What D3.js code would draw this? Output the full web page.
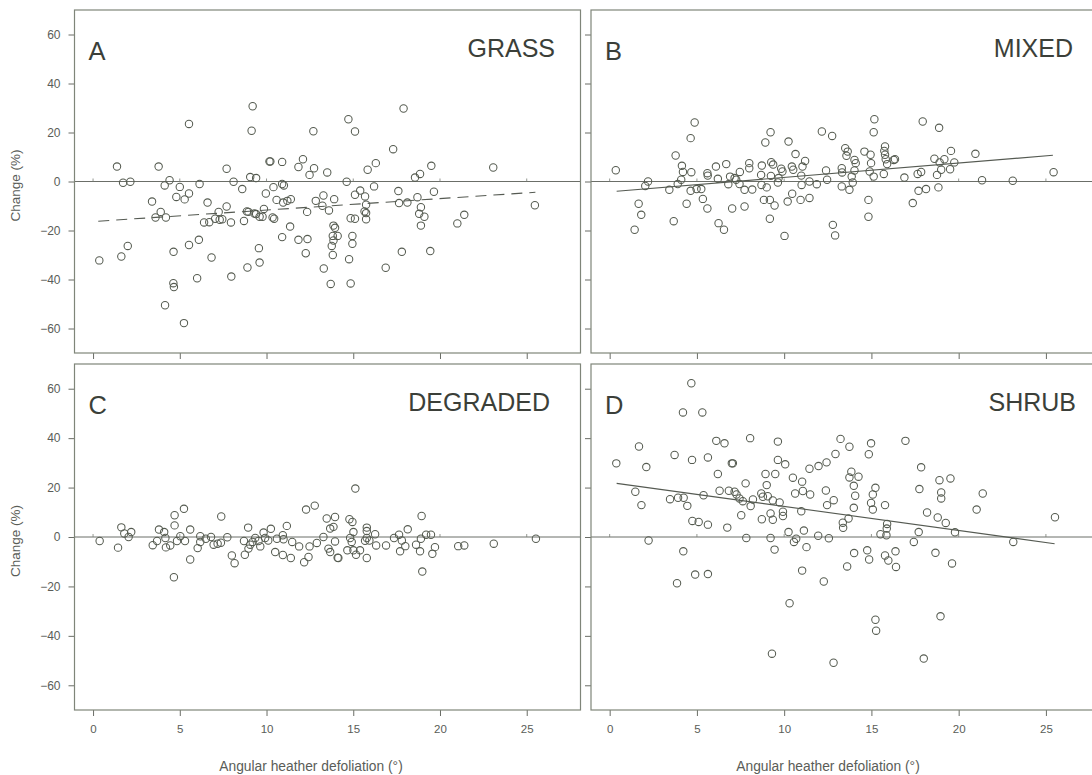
<!DOCTYPE html>
<html>
<head>
<meta charset="utf-8">
<script src="https://cdn.jsdelivr.net/npm/d3@7"></script>
<style>
  body { margin: 0; background: #ffffff; }
  svg { display: block; font-family: "Liberation Sans", Arial, sans-serif; }
</style>
</head>
<body>
<svg id="chart" width="1092" height="775"></svg>
<script>
// Angular heather defoliation (deg) vs change (%) per vegetation type: [x, y]
const grassPoints = [
  [0.36,-32.2],[1.38,6.1],[1.63,-30.6],[1.73,-0.5],[2.15,-0.1],[2.0,-26.3],[3.4,-8.2],[3.78,6.1],
  [3.6,-14.7],[3.9,-12.4],[4.13,-1.6],[4.2,-14.7],[4.41,0.5],[4.8,-6.3],[5.0,-2.2],[4.64,-28.7],
  [4.15,-50.5],[4.63,-41.5],[4.66,-43.1],[5.24,-57.8],[5.53,23.5],[5.53,-4.9],[5.28,-7.3],[5.53,-25.9],
  [6.14,-1.0],[6.1,-23.8],[6.0,-39.5],[6.6,-8.6],[6.4,-16.7],[6.7,-16.6],[6.83,-31.0],[7.04,-15.2],
  [7.3,-15.6],[7.24,-12.4],[7.45,-15.4],[7.7,5.2],[7.7,-10.2],[7.95,-16.7],[8.1,-0.1],[7.97,-38.8],
  [8.6,-3.1],[8.7,-16.1],[8.9,-35.1],[8.87,-12.2],[9.06,1.8],[9.4,1.4],[9.2,30.7],[9.14,20.7],
  [8.96,-12.4],[9.3,-13.1],[9.6,-14.4],[9.4,-13.3],[9.77,-14.4],[9.56,-27.2],[9.6,-33.1],[9.85,-11.2],
  [9.96,-4.9],[10.17,8.2],[10.22,8.2],[10.4,-2.3],[10.44,-15.2],[10.35,-14.7],[10.58,-7.5],[10.9,8.0],
  [10.9,-1.0],[11.0,-1.6],[10.96,-8.6],[11.2,-7.9],[11.4,-7.2],[11.36,-18.4],[10.9,-22.7],[11.84,5.9],
  [12.1,9.1],[12.74,5.4],[12.48,2.7],[12.7,20.5],[12.34,-12.4],[12.84,-7.9],[11.84,-23.8],[12.36,-23.5],
  [12.26,-29.3],[13.28,-5.7],[13.5,3.7],[13.22,-9.9],[13.6,-11.8],[13.3,-35.5],[13.7,-41.8],[13.9,-7.2],
  [13.86,-18.0],[13.95,-18.9],[13.82,-22.2],[14.1,-22.2],[13.86,-24.1],[13.76,-26.3],[13.82,-30.0],[14.85,-41.6],
  [14.72,25.4],[15.1,20.4],[14.62,-0.1],[15.1,-5.4],[15.4,-3.7],[15.68,-6.1],[15.74,-9.5],[15.65,-12.2],
  [15.74,-12.9],[15.74,-15.4],[14.85,-15.0],[15.1,-15.2],[14.95,-22.2],[14.95,-25.4],[14.76,-31.7],[15.83,4.8],
  [16.3,7.5],[16.2,-2.0],[16.87,-35.2],[17.3,13.2],[17.9,29.8],[17.6,-3.9],[17.64,-8.8],[18.12,-8.6],
  [17.8,-28.7],[18.56,1.6],[18.85,3.1],[19.5,6.4],[18.7,-6.4],[18.9,-10.5],[18.8,-13.2],[19.1,-14.4],
  [18.9,-18.0],[19.65,-4.2],[19.44,-28.4],[21.0,-17.1],[21.4,-13.6],[23.07,5.7],[25.47,-9.7]
];

const mixedPoints = [
  [0.35,4.6],[2.2,0.0],[2.04,-1.8],[1.66,-9.1],[1.81,-13.6],[1.43,-19.7],[3.42,-3.4],[3.78,10.6],
  [3.67,-16.2],[4.14,6.4],[4.2,3.9],[4.1,0.7],[3.9,-1.0],[4.41,-9.1],[4.68,3.8],[4.64,17.7],
  [4.87,24.1],[4.64,-3.8],[4.98,-3.1],[5.25,-3.1],[5.34,-7.1],[5.6,3.4],[5.62,2.4],[5.6,-11.0],
  [6.09,6.1],[6.2,1.1],[6.24,-17.0],[6.55,-19.7],[6.68,7.1],[6.8,-1.1],[6.9,2.0],[7.02,-11.0],
  [7.16,1.4],[7.25,0.7],[7.46,3.9],[7.44,-1.0],[7.73,-3.4],[7.73,-10.2],[8.0,7.5],[8.0,5.4],
  [8.17,-3.3],[8.72,6.5],[8.68,2.7],[8.7,-1.4],[8.84,-7.5],[8.92,15.9],[9.22,20.1],[9.26,7.9],
  [9.37,6.9],[9.24,2.3],[9.0,-2.4],[9.18,-7.5],[9.18,-15.2],[9.45,-9.8],[9.64,-0.4],[9.68,1.4],
  [9.83,5.2],[9.9,4.1],[10.02,-22.2],[10.25,16.3],[10.2,-8.2],[10.44,6.1],[10.52,4.8],[10.65,11.2],
  [10.46,-5.0],[10.94,-7.5],[10.98,2.4],[11.0,-1.4],[11.05,6.1],[11.2,8.4],[11.45,0.0],[11.45,-6.7],
  [11.87,-1.1],[12.16,20.4],[12.4,4.5],[12.46,0.7],[12.75,18.6],[12.79,-17.7],[12.92,-22.0],[13.3,5.4],
  [13.32,3.7],[13.3,-2.0],[13.5,13.6],[13.64,12.2],[13.57,10.5],[13.74,-3.4],[13.87,2.0],[13.93,-0.4],
  [14.03,8.8],[14.1,7.5],[14.03,4.5],[14.6,12.2],[14.83,-7.5],[14.83,-14.4],[14.95,10.9],[14.98,7.5],
  [14.9,4.1],[15.13,2.0],[15.13,20.1],[15.17,25.4],[15.71,3.1],[15.78,14.3],[15.74,12.5],[15.78,10.9],
  [15.82,9.1],[15.9,7.1],[16.28,8.8],[16.35,9.1],[16.89,1.6],[17.37,-8.8],[17.7,-3.8],[17.65,3.1],
  [17.85,3.9],[17.94,24.5],[18.13,-3.1],[18.61,9.3],[18.76,2.7],[18.84,-2.4],[18.88,21.9],[18.91,7.8],
  [19.0,4.8],[19.18,9.1],[19.51,5.0],[19.56,12.5],[19.75,7.8],[20.96,11.3],[21.34,0.5],[23.1,0.3],
  [25.44,3.8]
];

const degradedPoints = [
  [0.38,-1.6],[1.44,-4.3],[1.63,3.9],[1.8,1.4],[2.05,0.0],[2.2,2.0],[3.44,-3.3],[3.8,3.0],
  [3.69,-1.6],[4.1,2.0],[4.17,-0.4],[4.2,-4.2],[4.45,-3.4],[4.7,8.8],[4.7,4.7],[4.66,-16.3],
  [4.84,-1.6],[5.03,0.3],[5.24,11.4],[5.3,-1.6],[5.6,3.0],[5.6,-9.1],[6.03,-4.5],[6.18,0.3],
  [6.18,-2.0],[6.5,-0.7],[6.8,0.0],[6.95,-3.1],[7.18,-2.7],[7.39,8.3],[7.37,-2.3],[7.74,-0.1],
  [8.0,-7.5],[8.16,-10.6],[8.7,-1.6],[8.75,-7.2],[8.94,3.8],[8.96,-4.7],[9.06,-3.1],[9.2,-2.0],
  [9.35,-0.4],[9.64,-3.8],[9.54,-1.6],[9.83,1.8],[9.92,-0.4],[10.25,3.3],[10.1,-1.4],[10.5,-6.1],
  [10.6,-0.7],[10.94,0.7],[10.98,-0.9],[10.94,-7.3],[11.17,4.5],[11.4,-8.5],[11.48,-2.0],[11.88,-3.8],
  [12.28,11.1],[12.78,12.7],[12.17,-10.2],[12.42,-8.1],[12.48,-3.8],[12.9,-2.4],[13.28,0.0],[13.47,7.5],
  [13.67,3.4],[13.57,-4.7],[13.67,-6.1],[13.95,-1.8],[14.1,-8.4],[15.12,19.6],[13.95,8.1],[14.78,7.2],
  [14.95,6.1],[13.86,4.1],[15.01,2.0],[15.78,3.8],[15.78,2.4],[16.26,1.1],[15.78,-0.4],[15.68,-1.5],
  [15.93,-1.4],[14.82,-0.4],[14.91,-2.0],[14.66,-5.4],[15.01,-5.4],[15.16,-7.2],[15.39,-5.4],[15.78,-8.5],
  [14.14,-8.5],[16.32,-3.4],[16.89,-3.4],[17.35,-0.4],[17.64,0.9],[17.8,-1.4],[17.7,-5.8],[18.0,-3.7],
  [18.14,3.1],[18.62,-3.1],[18.85,-5.8],[18.9,-0.7],[18.94,8.5],[18.98,-14.0],[19.2,0.9],[19.48,0.9],
  [19.56,-6.8],[19.71,-4.1],[21.05,-3.7],[21.4,-3.4],[23.1,-2.7],[25.53,-0.7]
];

const shrubPoints = [
  [0.38,29.8],[1.68,36.6],[1.47,18.3],[1.82,12.9],[2.1,28.3],[2.23,-1.4],[3.46,15.3],[3.72,33.2],
  [3.86,-18.7],[3.92,15.9],[4.24,15.9],[4.2,50.4],[4.22,-5.8],[4.45,12.6],[4.68,62.2],[4.72,31.2],
  [4.74,6.5],[4.9,-15.2],[5.1,6.1],[5.31,50.4],[5.38,16.9],[5.63,32.2],[5.63,5.0],[5.63,-15.0],
  [6.11,38.9],[6.2,25.5],[6.3,18.7],[6.58,37.9],[6.74,3.8],[6.83,18.7],[7.0,29.8],[7.06,29.8],
  [7.16,18.3],[7.27,17.2],[7.44,15.6],[7.54,8.8],[7.63,14.5],[7.79,21.7],[7.83,-0.4],[8.05,40.0],
  [8.08,12.5],[8.21,15.2],[8.69,17.6],[8.78,16.3],[8.72,7.2],[8.93,25.5],[9.0,21.0],[9.06,16.5],
  [9.22,9.5],[9.22,-0.4],[9.3,-47.2],[9.35,7.0],[9.35,14.8],[9.45,-5.1],[9.49,25.5],[9.64,38.6],
  [9.64,31.2],[9.74,14.0],[9.93,10.2],[9.93,8.5],[10.06,29.4],[10.25,2.0],[10.31,-26.8],[10.5,24.0],
  [10.56,-2.0],[10.69,-0.7],[10.63,17.6],[10.98,10.4],[11.03,22.4],[11.07,18.6],[11.03,-13.6],[11.13,2.6],
  [11.28,-4.1],[11.45,27.6],[11.49,17.2],[11.95,0.5],[11.97,28.7],[12.27,-18.0],[12.39,18.8],[12.43,30.2],
  [12.46,12.9],[12.56,-0.5],[12.83,-50.9],[12.84,14.9],[12.94,33.6],[13.23,39.7],[13.74,36.5],[13.85,26.4],
  [13.74,24.1],[14.26,24.4],[13.99,20.7],[14.07,16.7],[13.99,11.8],[13.69,7.5],[13.36,5.8],[13.38,3.7],
  [14.01,-6.5],[13.61,-11.9],[14.76,-5.4],[14.87,-9.1],[14.85,33.5],[14.98,37.9],[15.23,19.9],[15.08,17.2],
  [14.98,13.8],[15.08,11.1],[15.23,-33.5],[15.27,-37.9],[15.52,1.1],[15.78,12.9],[15.9,5.3],[15.88,3.4],
  [15.86,0.7],[15.78,-7.5],[15.97,-9.5],[16.38,-5.8],[16.41,-12.1],[16.95,38.9],[17.43,-2.0],[17.71,2.0],
  [17.75,19.4],[17.85,28.2],[18.0,-49.2],[18.19,9.9],[18.67,-6.4],[18.8,7.9],[18.9,23.0],[19.0,18.0],
  [19.0,15.6],[18.96,-32.1],[19.26,5.7],[19.53,23.7],[19.62,-10.7],[19.79,1.9],[21.03,11.1],[21.38,17.6],
  [23.13,-2.0],[25.52,8.0]
];

// Fitted regression lines, start and end points [x, y]
const grassFit = [[0.3,-16.2],[25.5,-4.4]];
const mixedFit = [[0.4,-4.0],[25.4,10.7]];
const shrubFit = [[0.4,21.7],[25.5,-2.7]];

const xTicks = [0, 5, 10, 15, 20, 25];
const yTicks = [-60, -40, -20, 0, 20, 40, 60];
const xDomain = [-1.07, 28.1];
const yDomain = [-70, 70];

const xTitle = "Angular heather defoliation (°)";
const yTitle = "Change (%)";

const svg = d3.select("#chart");

const panels = [
  { letter: "A", name: "GRASS",    points: grassPoints,    fit: grassFit, dashed: true,
    x0: 74.5, y0: 10,  w: 506, h: 343, nameRight: 555, yLabels: true,  xLabels: false },
  { letter: "B", name: "MIXED",    points: mixedPoints,    fit: mixedFit, dashed: false,
    x0: 591,  y0: 10,  w: 509, h: 343, nameRight: 1073, yLabels: false, xLabels: false },
  { letter: "C", name: "DEGRADED", points: degradedPoints, fit: null,     dashed: false,
    x0: 74.5, y0: 364, w: 506, h: 346, nameRight: 550, yLabels: true,  xLabels: true },
  { letter: "D", name: "SHRUB",    points: shrubPoints,    fit: shrubFit, dashed: false,
    x0: 591,  y0: 364, w: 509, h: 346, nameRight: 1076, yLabels: false, xLabels: true }
];

const boxColor = "#7f8579";
const axisColor = "#6a6d66";
const pointColor = "#555b50";
const textColor = "#3b3f39";
const labelColor = "#5a5d58";

panels.forEach(p => {
  const x = d3.scaleLinear().domain(xDomain).range([p.x0, p.x0 + p.w]);
  const y = d3.scaleLinear().domain(yDomain).range([p.y0 + p.h, p.y0]);
  const g = svg.append("g");

  // y axis (left side, ticks outward)
  const yAxis = d3.axisLeft(y).tickValues(yTicks).tickSize(6).tickPadding(8)
    .tickFormat(p.yLabels ? d3.format("d") : "");
  const ya = g.append("g").attr("transform", `translate(${p.x0},0)`).call(yAxis);
  ya.select(".domain").remove();
  ya.selectAll(".tick line").attr("stroke", axisColor);
  ya.selectAll(".tick text").attr("fill", labelColor).style("font-size", "12px")
    .attr("font-family", "Liberation Sans, Arial, sans-serif");

  // x axis (bottom, ticks outward)
  const xAxis = d3.axisBottom(x).tickValues(xTicks).tickSize(6).tickPadding(9)
    .tickFormat(p.xLabels ? d3.format("d") : "");
  const xa = g.append("g").attr("transform", `translate(0,${p.y0 + p.h})`).call(xAxis);
  xa.select(".domain").remove();
  xa.selectAll(".tick line").attr("stroke", axisColor);
  xa.selectAll(".tick text").attr("fill", labelColor)
    .attr("font-family", "Liberation Sans, Arial, sans-serif")
    .style("font-size", "11.5px");

  // zero reference line with small tick marks
  g.append("line")
    .attr("x1", p.x0).attr("x2", p.x0 + p.w)
    .attr("y1", y(0)).attr("y2", y(0))
    .attr("stroke", "#6b6e68").attr("stroke-width", 1);
  g.selectAll(".zt").data(xTicks).join("line")
    .attr("x1", d => x(d)).attr("x2", d => x(d))
    .attr("y1", y(0)).attr("y2", y(0) - 3)
    .attr("stroke", "#7a7d76").attr("stroke-width", 0.8);

  // fitted line
  if (p.fit) {
    g.append("line")
      .attr("x1", x(p.fit[0][0])).attr("y1", y(p.fit[0][1]))
      .attr("x2", x(p.fit[1][0])).attr("y2", y(p.fit[1][1]))
      .attr("stroke", "#555a52").attr("stroke-width", 1.1)
      .attr("stroke-dasharray", p.dashed ? "11,7" : null);
  }

  // points
  g.selectAll("circle").data(p.points).join("circle")
    .attr("cx", d => x(d[0])).attr("cy", d => y(d[1]))
    .attr("r", 3.7)
    .attr("fill", "none")
    .attr("stroke", pointColor)
    .attr("stroke-width", 1.05);

  // frame
  g.append("rect")
    .attr("x", p.x0).attr("y", p.y0).attr("width", p.w).attr("height", p.h)
    .attr("fill", "none").attr("stroke", boxColor).attr("stroke-width", 1.2);

  // panel letter and vegetation type
  g.append("text").attr("x", p.x0 + 14).attr("y", p.y0 + 50)
    .attr("fill", textColor).style("font-size", "25.5px").text(p.letter);
  g.append("text").attr("x", p.nameRight).attr("y", p.y0 + 47)
    .attr("text-anchor", "end")
    .attr("fill", textColor).style("font-size", "25px").text(p.name);

  // y title for left column
  if (p.yLabels) {
    g.append("text")
      .attr("transform", `translate(20,${p.y0 + p.h / 2 + 4}) rotate(-90)`)
      .attr("text-anchor", "middle")
      .attr("fill", labelColor).style("font-size", "13.5px")
      .text(yTitle);
  }
});

// x titles under the bottom row
[311, 828].forEach(cx => {
  svg.append("text")
    .attr("x", cx).attr("y", 771)
    .attr("text-anchor", "middle")
    .attr("fill", labelColor).style("font-size", "13.8px")
    .text(xTitle);
});
</script>
</body>
</html>
